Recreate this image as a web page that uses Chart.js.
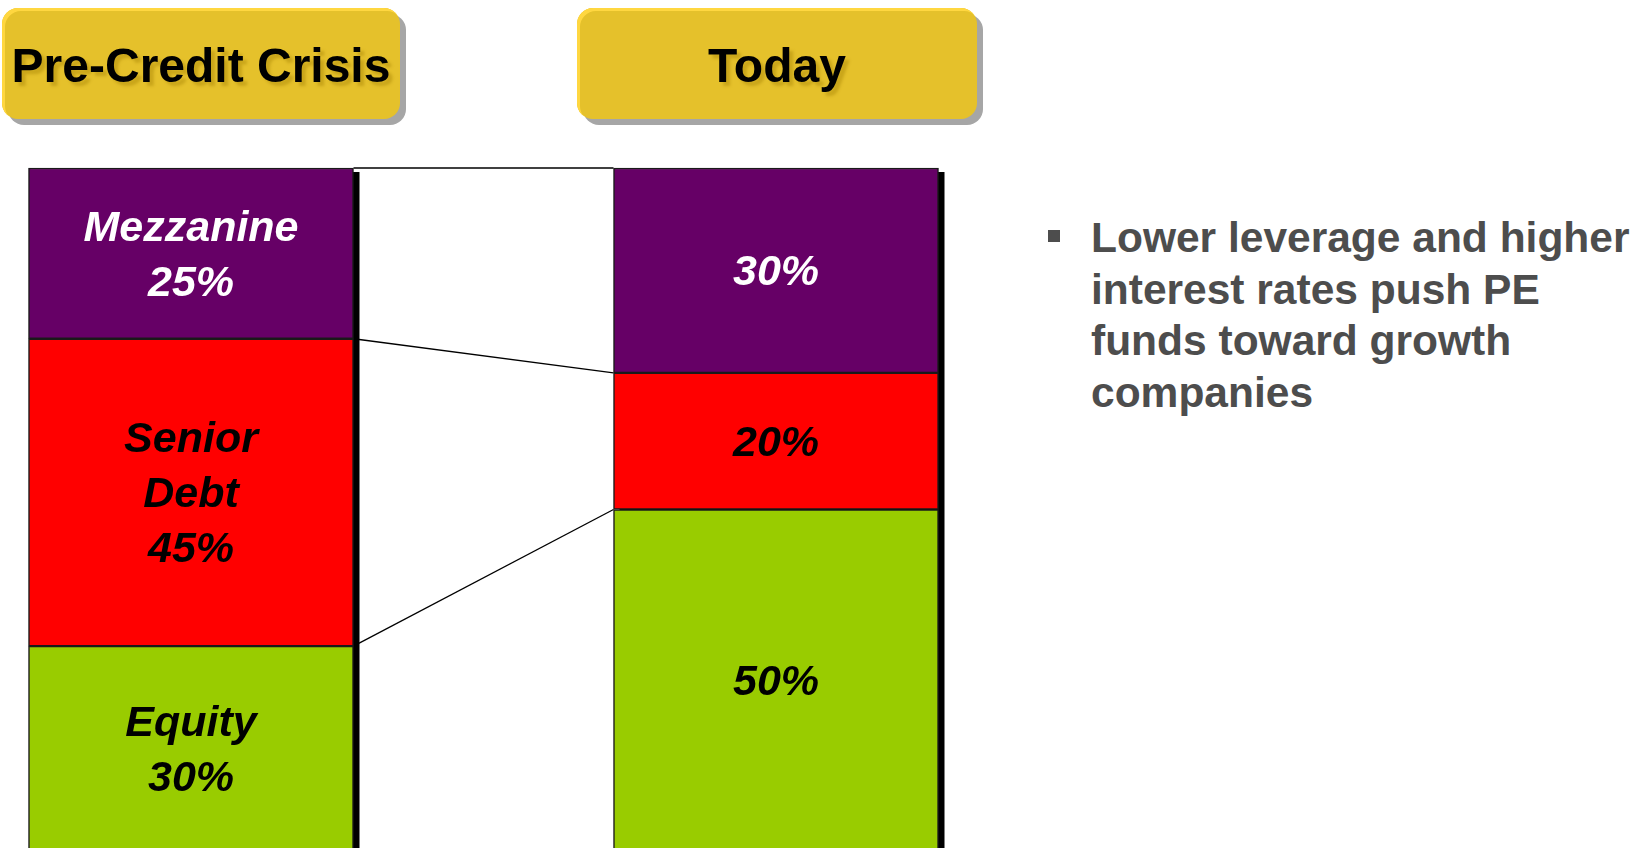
<!DOCTYPE html>
<html>
<head>
<meta charset="utf-8">
<title>Capital structure</title>
<script src="https://cdn.jsdelivr.net/npm/chart.js@4.4.0/dist/chart.umd.min.js"></script>
<style>
  body { margin: 0; background: #fff; overflow: hidden; font-family: "Liberation Sans", Arial, sans-serif; }
  #page { position: relative; width: 1636px; height: 848px; overflow: hidden; }
  #chartBox { position: absolute; left: 0; top: 0; width: 1000px; height: 860px; }
  .head {
    position: absolute; top: 8px; height: 111px; box-sizing: border-box; padding-top: 4px;
    border-radius: 16px; background: #E5C12B;
    box-shadow: 6px 6px 0 #A6A6A6, inset 3px 3px 0 #FFD740;
    display: flex; align-items: center; justify-content: center;
    font-weight: bold; font-size: 48px; color: #000;
    text-shadow: 4px 4px 3px rgba(160, 125, 0, 0.4);
    white-space: nowrap;
  }
  #bullet { position: absolute; left: 1048px; top: 230px; width: 12px; height: 12px; background: #4D4D4D; }
  #note {
    position: absolute; left: 1091px; top: 212px; width: 570px;
    font-weight: bold; font-size: 42.5px; line-height: 51.5px; color: #4D4D4D;
  }
</style>
</head>
<body>
<div id="page">
  <div id="chartBox"><canvas id="chart"></canvas></div>
  <div class="head" id="head0" style="left:2px; width:398px;"></div>
  <div class="head" id="head1" style="left:577px; width:400px;"></div>
  <div id="bullet"></div>
  <div id="note">Lower leverage and higher interest rates push PE funds toward growth companies</div>
</div>
<script>
// columns, left to right
const categories = ['Pre-Credit Crisis', 'Today'];
// stacked from the bottom up
const seriesNames = ['Equity', 'Senior Debt', 'Mezzanine'];
const equity = [30, 50];
const seniorDebt = [45, 20];
const mezzanine = [25, 30];
// the first column also names each slice
const showNames = [true, false];

const seriesColors = ['#99CC00', '#FF0000', '#660066'];
const labelColors = ['#000', '#000', '#fff'];

document.getElementById('head0').textContent = categories[0];
document.getElementById('head1').textContent = categories[1];

const labelFont = 'italic bold 43px "Liberation Sans", Arial, sans-serif';

// lines joining the slices of the two columns, plus the drop shadow
const linksAndShadow = {
    id: 'linksAndShadow',
    beforeDatasetsDraw(chart) {
        const ctx = chart.ctx;
        const metas = chart.getSortedVisibleDatasetMetas();
        ctx.save();
        ctx.strokeStyle = '#000';
        ctx.lineWidth = 1.3;
        metas.forEach(meta => {
            const a = meta.data[0];
            const b = meta.data[1];
            ctx.beginPath();
            ctx.moveTo(a.x + a.width / 2, a.y);
            ctx.lineTo(b.x - b.width / 2, b.y);
            ctx.stroke();
        });
        ctx.fillStyle = '#000';
        categories.forEach((c, i) => {
            const low = metas[0].data[i];
            const high = metas[metas.length - 1].data[i];
            ctx.fillRect(low.x - low.width / 2 + 6, high.y + 4, low.width, low.base - high.y);
        });
        ctx.restore();
    }
};

const sliceLabels = {
    id: 'sliceLabels',
    afterDatasetsDraw(chart) {
        const ctx = chart.ctx;
        ctx.save();
        ctx.font = labelFont;
        ctx.textAlign = 'center';
        ctx.textBaseline = 'alphabetic';
        chart.getSortedVisibleDatasetMetas().forEach(meta => {
            const d = meta.index;
            meta.data.forEach((el, i) => {
                let lines = [chart.data.datasets[d].data[i] + '%'];
                if (showNames[i]) {
                    lines = seriesNames[d].split(' ').concat(lines);
                }
                const mid = (el.y + el.base) / 2;
                const step = 55;
                const first = mid - step * (lines.length - 1) / 2;
                ctx.fillStyle = labelColors[d];
                lines.forEach((t, k) => {
                    ctx.fillText(t, el.x, first + k * step + 15);
                });
            });
        });
        ctx.restore();
    }
};

const datasets = [equity, seniorDebt, mezzanine].map((values, d) => ({
    label: seriesNames[d],
    data: values,
    backgroundColor: seriesColors[d],
    borderColor: '#1a1a1a',
    borderWidth: 1.5,
    borderSkipped: false,
    barThickness: 325,
    clip: false
}));

const chart = new Chart(document.getElementById('chart'), {
    type: 'bar',
    data: {
        labels: categories,
        datasets: datasets
    },
    options: {
        responsive: true,
        maintainAspectRatio: false,
        animation: false,
        events: [],
        layout: {
            padding: { left: 191, right: 224, top: 168, bottom: 9 }
        },
        plugins: {
            legend: { display: false },
            tooltip: { enabled: false }
        },
        scales: {
            x: {
                display: false,
                stacked: true,
                offset: false
            },
            y: {
                display: false,
                stacked: true,
                min: 0,
                max: 100
            }
        }
    },
    plugins: [linksAndShadow, sliceLabels]
});
</script>
</body>
</html>
